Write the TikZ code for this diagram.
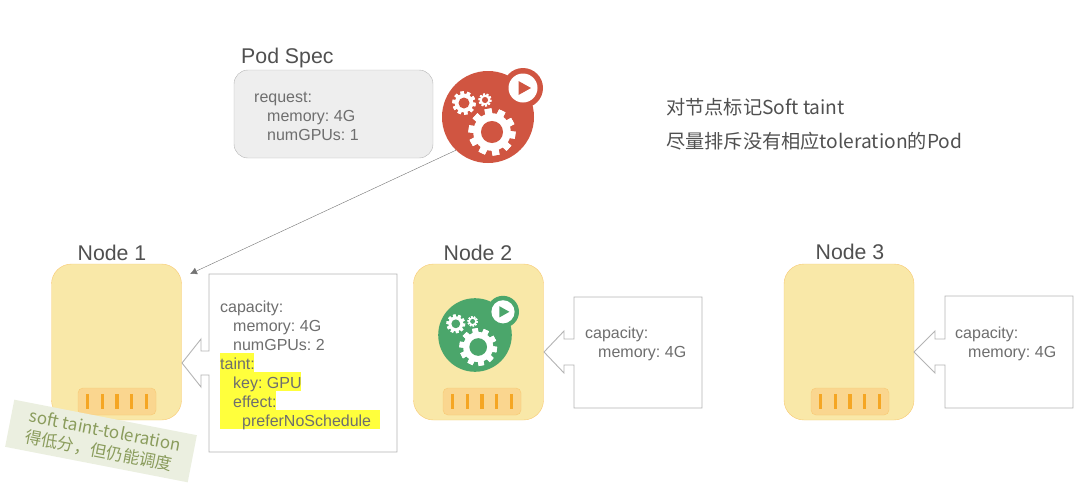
\documentclass[tikz,border=0pt]{standalone}
\usepackage{fontspec}
\setmainfont{Liberation Sans}
\newfontfamily\cjkfont{Noto Sans CJK SC}
\usepackage{xcolor}
\usetikzlibrary{arrows.meta, positioning}

\definecolor{textgray}{HTML}{6E6E6E}
\definecolor{titlegray}{HTML}{505050}
\definecolor{linegray}{HTML}{B4B4B4}
\definecolor{nodefill}{HTML}{F9E8A8}
\definecolor{nodeline}{HTML}{F8C973}
\definecolor{portfill}{HTML}{FAD68F}
\definecolor{portbar}{HTML}{F5A623}
\definecolor{podred}{HTML}{D05541}
\definecolor{podgreen}{HTML}{4BA66B}
\definecolor{notefill}{HTML}{EBEFE0}
\definecolor{notetext}{HTML}{8A9C5C}
\definecolor{marker}{HTML}{FFFF3C}

\tikzset{
    hostbox/.style={draw=nodeline, fill=nodefill, rounded corners=20pt, minimum width=130pt, minimum height=156pt, inner sep=0pt},
    portbox/.style={draw=nodeline, fill=portfill, rounded corners=5pt, minimum width=78pt, minimum height=27pt, inner sep=0pt},
    title/.style={text=titlegray, font=\fontsize{21.3}{24}\selectfont, inner sep=0pt},
    spec/.style={text=textgray, font=\frenchspacing\fontsize{16}{19}\selectfont, align=left, anchor=north west, inner sep=0pt},
    callout/.style={draw=linegray, fill=white, line width=0.9pt},
    podcircle/.style={circle, inner sep=0pt, fill=#1},
    remark/.style={anchor=base west, inner sep=0pt, text=titlegray, font=\cjkfont\fontsize{19.2}{22}\selectfont},
}

% one gear: x, y, radius, hole colour
\newcommand{\gearicon}[4]{
    \foreach \a in {0,36,...,324}
        \fill[white, rotate around={\a+10:(#1,#2)}] ({#1-0.15*#3},{#2-#3}) rectangle ({#1+0.15*#3},{#2+#3});
    \fill[white] (#1,#2) circle ({0.8*#3});
    \fill[#4] (#1,#2) circle ({0.47*#3});
}

% pod with gears and badge: name, x, y, scale, colour
\newcommand{\podicon}[5]{
    \node[podcircle=#5, minimum size={92pt*#4}] (#1) at (#2,#3) {};
    \node[podcircle=#5, minimum size={40pt*#4}] (#1badge) at ({#2+35*#4},{#3-29*#4}) {};
    \node[podcircle=white, minimum size={29pt*#4}] (#1play) at (#1badge) {};
    \fill[#5] ({#2+35*#4-4.5*#4},{#3-29*#4-7*#4}) -- ({#2+35*#4+8*#4},{#3-29*#4}) -- ({#2+35*#4-4.5*#4},{#3-29*#4+7*#4}) -- cycle;
    \gearicon{#2+4*#4}{#3+15*#4}{23.5*#4}{#5}
    \gearicon{#2-24*#4}{#3-14*#4}{11.7*#4}{#5}
    \gearicon{#2-3*#4}{#3-17*#4}{6.5*#4}{#5}
}

% port with five bars: name, host, shift along the host
\newcommand{\porticon}[3]{
    \node[portbox, anchor=south, xshift=#3pt, above=5pt of #2.south] (#1) {};
    \foreach \i in {-2,...,2}
        \fill[portbar] ([shift={({\i*14.8-1.6},-7.5)}]#1.center) rectangle ([shift={({\i*14.8+1.6},7.5)}]#1.center);
}

\begin{document}
\begin{tikzpicture}[x=1pt, y=-1pt]
    \useasboundingbox (0,0) rectangle (1080,483);

    % pod spec
    \node[title, anchor=base west] (specTitle) at (241,63) {Pod Spec};
    \node[draw=linegray, fill=black!6.5, rounded corners=14pt, minimum width=199pt, minimum height=88pt, inner sep=0pt] (specBox) at (333.5,114) {};
    \node[spec] (specText) at (254,92) {request:\\\hspace*{13pt}memory: 4G\\\hspace*{13pt}numGPUs: 1};
    \podicon{pod}{488}{117}{1}{podred}

    % hosts
    \node[title] (label1) at (112,253) {Node 1};
    \node[title] (label2) at (478,253) {Node 2};
    \node[title] (label3) at (850,252) {Node 3};
    \node[hostbox] (node1) at (116.5,342) {};
    \node[hostbox] (node2) at (478.5,342) {};
    \node[hostbox] (node3) at (849,342) {};
    \porticon{port1}{node1}{0.5}
    \porticon{port2}{node2}{3.5}
    \porticon{port3}{node3}{1}
    \podicon{pod2}{475}{335}{0.8}{podgreen}

    % capacity boxes
    \coordinate (tip1) at (182,363);
    \coordinate (tip2) at (544,352);
    \coordinate (tip3) at (914,352);
    \draw[callout] (tip1) -- (201,339) -- (201,351) -- (209,351) -- (209,274) -- (397,274) -- (397,452) -- (209,452) -- (209,375) -- (201,375) -- (201,387) -- cycle;
    \draw[callout] (tip2) -- (564,331) -- (564,339) -- (574,339) -- (574,297) -- (702,297) -- (702,408) -- (574,408) -- (574,365) -- (564,365) -- (564,373) -- cycle;
    \draw[callout] (tip3) -- (935,331) -- (935,339) -- (945,339) -- (945,296) -- (1073,296) -- (1073,408) -- (945,408) -- (945,365) -- (935,365) -- (935,373) -- cycle;

    \fill[marker] (220,353) rectangle (254,372);
    \fill[marker] (220,372) rectangle (301,391);
    \fill[marker] (220,391) rectangle (276,410);
    \fill[marker] (220,410) rectangle (380,429);
    \node[spec] (capText1) at (220,301) {capacity:\\\hspace*{13pt}memory: 4G\\\hspace*{13pt}numGPUs: 2\\taint:\\\hspace*{13pt}key: GPU\\\hspace*{13pt}effect:\\\hspace*{22pt}preferNoSchedule};
    \node[spec] (capText2) at (585,327) {capacity:\\\hspace*{13pt}memory: 4G};
    \node[spec] (capText3) at (955,327) {capacity:\\\hspace*{13pt}memory: 4G};

    % schedule arrow
    \coordinate (target) at (190,274);
    \draw[draw=black!55, -{Latex[length=7pt, width=7pt]}] (pod.226) -- (target);

    % note
    \node[fill=notefill, rotate=-11, minimum width=186pt, minimum height=48pt, inner sep=0pt] (note) at (101,441) {};
    \node[text=notetext, rotate=-11, inner sep=0pt, align=left, font=\cjkfont\fontsize{17}{21}\selectfont] (noteText) at (103,441) {soft taint-toleration\\{\fontsize{16.6}{21}\selectfont 得低分，但仍能调度}};

    % remark
    \node[remark] (remark1) at (666,114) {对节点标记Soft taint};
    \node[remark] (remark2) at (666,148) {尽量排斥没有相应toleration的Pod};
\end{tikzpicture}
\end{document}
